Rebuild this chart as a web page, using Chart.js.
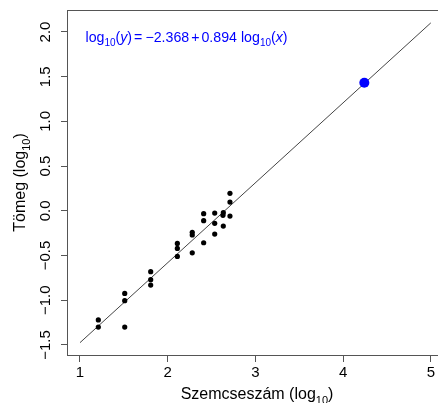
<!DOCTYPE html>
<html>
<head>
<meta charset="utf-8">
<script src="https://cdn.jsdelivr.net/npm/chart.js@4/dist/chart.umd.min.js"></script>
<style>
  html, body { margin: 0; padding: 0; background: #fff; }
  canvas { display: block; }
</style>
</head>
<body>
<canvas id="chart" width="438" height="403"></canvas>
<script>
// log10 grain count vs log10 mass
const grainLog = [1.209, 1.209, 1.51, 1.51, 1.51, 1.806, 1.806, 1.806, 2.11, 2.11, 2.11,
                  2.28, 2.28, 2.28, 2.41, 2.41, 2.41, 2.536, 2.536, 2.536,
                  2.634, 2.63, 2.634, 2.71, 2.71, 2.71];
const massLog  = [-1.22, -1.30, -0.923, -1.005, -1.30, -0.68, -0.77, -0.83, -0.364, -0.42, -0.51,
                  -0.24, -0.27, -0.469, -0.032, -0.11, -0.357, -0.025, -0.14, -0.26,
                  -0.02, -0.05, -0.17, 0.196, 0.098, -0.058];
const highlightX = [4.242];
const highlightY = [1.433];
const intercept = -2.368;
const slope = 0.894;
const fitX = [1, 5];
const xTicks = [1, 2, 3, 4, 5];
const yTicks = [2.0, 1.5, 1.0, 0.5, 0.0, -0.5, -1.0, -1.5];
const yTickLabels = ['2.0', '1.5', '1.0', '0.5', '0.0', '\u22120.5', '\u22121.0', '\u22121.5'];

const FONT = '"Liberation Sans", Arial, Helvetica, sans-serif';

// draw text runs with subscripts / italics
function richWidth(ctx, parts) {
    let w = 0;
    parts.forEach(p => {
        ctx.font = (p.italic ? 'italic ' : '') + p.size + 'px ' + FONT;
        w += ctx.measureText(p.t).width + (p.gap || 0);
    });
    return w;
}
function drawRich(ctx, parts, x, y) {
    let cx = x;
    parts.forEach(p => {
        ctx.font = (p.italic ? 'italic ' : '') + p.size + 'px ' + FONT;
        cx += (p.gap || 0);
        ctx.fillText(p.t, cx, y + (p.dy || 0));
        cx += ctx.measureText(p.t).width;
    });
}
function logParts(size, inner, italic) {
    return [
        {t: 'log', size: size},
        {t: '10', size: Math.round(size * 0.7), dy: size * 0.28},
        {t: '(', size: size},
        {t: inner, size: size, italic: italic},
        {t: ')', size: size}
    ];
}

const extras = {
    id: 'extras',
    afterDraw(chart) {
        const ctx = chart.ctx;
        const a = chart.chartArea;
        const ys = chart.scales.y;
        ctx.save();
        // top of the box
        ctx.strokeStyle = '#555';
        ctx.lineWidth = 1;
        ctx.beginPath();
        ctx.moveTo(a.left, a.top + 0.5);
        ctx.lineTo(a.right, a.top + 0.5);
        ctx.stroke();

        ctx.fillStyle = '#000';
        ctx.textBaseline = 'alphabetic';
        // y tick labels, rotated
        ctx.font = '15px ' + FONT;
        ctx.textAlign = 'center';
        yTicks.forEach((v, i) => {
            ctx.save();
            ctx.translate(50, ys.getPixelForValue(v));
            ctx.rotate(-Math.PI / 2);
            ctx.fillText(yTickLabels[i], 0, 0);
            ctx.restore();
        });
        ctx.textAlign = 'left';

        // x title
        const xt = [{t: 'Szemcsesz\u00e1m (', size: 16}, {t: 'log', size: 16},
                    {t: '10', size: 11, dy: 4.5}, {t: ')', size: 16}];
        const xw = richWidth(ctx, xt);
        drawRich(ctx, xt, 257 - xw / 2, 399);

        // y title
        const yt = [{t: 'T\u00f6meg (', size: 16}, {t: 'log', size: 16},
                    {t: '10', size: 11, dy: 4.5}, {t: ')', size: 16}];
        const yw = richWidth(ctx, yt);
        ctx.save();
        ctx.translate(25, (a.top + a.bottom) / 2);
        ctx.rotate(-Math.PI / 2);
        drawRich(ctx, yt, -yw / 2, 0);
        ctx.restore();

        // fitted equation
        ctx.fillStyle = '#0000ff';
        const s = 14.2;
        const eq = logParts(s, 'y', true)
            .concat([{t: '=', size: s, gap: 2}, {t: '\u2212', size: s, gap: 3},
                     {t: (-intercept).toFixed(3), size: s},
                     {t: '+', size: s, gap: 2}, {t: slope.toFixed(3), size: s, gap: 2}])
            .concat(logParts(s, 'x', true).map((p, i) => i === 0 ? Object.assign({gap: 4}, p) : p));
        drawRich(ctx, eq, 85.5, 42);
        ctx.restore();
    }
};

new Chart(document.getElementById('chart'), {
    type: 'scatter',
    data: {
        datasets: [
            {
                type: 'line',
                data: fitX.map(x => ({x: x, y: intercept + slope * x})),
                borderColor: '#444',
                borderWidth: 1,
                pointRadius: 0,
                fill: false,
                order: 3
            },
            {
                data: grainLog.map((x, i) => ({x: x, y: massLog[i]})),
                backgroundColor: '#000',
                borderColor: '#000',
                borderWidth: 0,
                pointRadius: 2.6,
                order: 2
            },
            {
                data: highlightX.map((x, i) => ({x: x, y: highlightY[i]})),
                backgroundColor: '#0000ff',
                borderColor: '#0000ff',
                borderWidth: 0,
                pointRadius: 5,
                order: 1
            }
        ]
    },
    options: {
        responsive: false,
        animation: false,
        devicePixelRatio: 1,
        layout: { autoPadding: false, padding: { left: 0, top: 10, right: 0, bottom: 0 } },
        plugins: { legend: { display: false }, tooltip: { enabled: false } },
        scales: {
            x: {
                type: 'linear',
                min: 0.8518,
                max: 5.082,
                afterBuildTicks: s => { s.ticks = xTicks.map(v => ({value: v})); },
                afterFit: s => { s.height = 48; s.paddingLeft = 0; s.paddingRight = 0; },
                grid: { drawOnChartArea: false, drawTicks: true, tickLength: 7, color: '#555' },
                border: { display: true, color: '#555' },
                ticks: { color: '#000', font: { family: FONT, size: 15 }, padding: 2,
                         maxRotation: 0, callback: v => String(v) }
            },
            y: {
                type: 'linear',
                min: -1.612,
                max: 2.246,
                afterBuildTicks: s => { s.ticks = yTicks.map(v => ({value: v})); },
                afterFit: s => { s.width = 67; s.paddingTop = 0; s.paddingBottom = 0; },
                grid: { drawOnChartArea: false, drawTicks: true, tickLength: 6, color: '#555' },
                border: { display: true, color: '#555' },
                ticks: { display: false }
            }
        }
    },
    plugins: [extras]
});
</script>
</body>
</html>
